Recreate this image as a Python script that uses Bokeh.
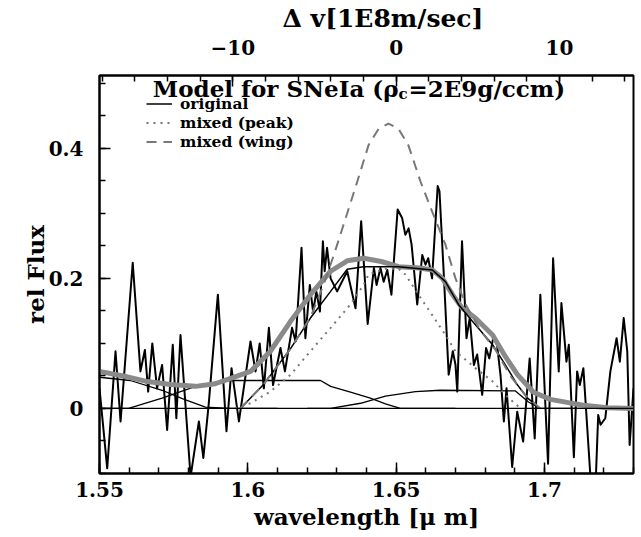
from bokeh.plotting import figure
from bokeh.models import (Range1d, LinearAxis, FixedTicker, PrintfTickFormatter,
                          Legend, LegendItem, Label, Span)
from bokeh.embed import file_html
from bokeh.resources import INLINE

# ---------------- data ----------------
wl_obs = [1.5500, 1.5526, 1.5554, 1.5571, 1.5612, 1.5638, 1.5653, 1.5664, 1.5678, 1.5694,
          1.5711, 1.5728, 1.5747, 1.5759, 1.5773, 1.5807, 1.5835, 1.5850, 1.5868, 1.5899,
          1.5928, 1.5945, 1.5970, 1.6009, 1.6026, 1.6040, 1.6054, 1.6071, 1.6085, 1.6110,
          1.6125, 1.6149, 1.6161, 1.6181, 1.6194, 1.6209, 1.6220, 1.6231, 1.6243, 1.6253,
          1.6259, 1.6267, 1.6279, 1.6301, 1.6335, 1.6363, 1.6382, 1.6404, 1.6425, 1.6434,
          1.6447, 1.6458, 1.6470, 1.6484, 1.6505, 1.6520, 1.6531, 1.6542, 1.6552, 1.6571,
          1.6588, 1.6599, 1.6608, 1.6621, 1.6640, 1.6646, 1.6660, 1.6677, 1.6691, 1.6700,
          1.6706, 1.6722, 1.6737, 1.6748, 1.6762, 1.6773, 1.6790, 1.6803, 1.6814, 1.6829,
          1.6840, 1.6852, 1.6863, 1.6872, 1.6891, 1.6908, 1.6928, 1.6950, 1.6967, 1.6986,
          1.7012, 1.7029, 1.7048, 1.7057, 1.7074, 1.7082, 1.7099, 1.7110, 1.7119, 1.7131,
          1.7157, 1.7172, 1.7181, 1.7189, 1.7205, 1.7222, 1.7243, 1.7254, 1.7267, 1.7279,
          1.7287, 1.7300]
flux_obs = [0.031, -0.092, 0.088, -0.020, 0.224, 0.057, 0.090, 0.026, 0.100, 0.031,
            0.067, -0.033, 0.098, -0.015, 0.113, -0.105, -0.020, -0.076, 0.006, 0.175,
            -0.035, 0.062, -0.020, 0.103, 0.057, 0.100, 0.031, 0.124, 0.036, 0.093,
            0.057, 0.124, 0.103, 0.247, 0.108, 0.190, 0.149, 0.180, 0.149, 0.257,
            0.211, 0.247, 0.200, 0.180, 0.211, 0.154, 0.288, 0.130, 0.216, 0.190,
            0.216, 0.195, 0.213, 0.175, 0.306, 0.293, 0.267, 0.277, 0.252, 0.160,
            0.236, 0.221, 0.231, 0.200, 0.342, 0.334, 0.211, 0.052, 0.088, 0.067,
            0.026, 0.257, 0.108, 0.139, 0.067, 0.083, 0.021, 0.093, 0.077, 0.113,
            0.098, 0.050, -0.020, 0.031, -0.090, -0.005, -0.051, 0.077, -0.046, 0.175,
            -0.085, 0.231, 0.057, 0.162, 0.072, 0.098, -0.075, 0.057, 0.036, 0.062,
            -0.120, -0.120, -0.010, -0.025, -0.015, 0.057, 0.108, 0.072, 0.139, 0.088,
            -0.056, 0.031]

# total model (thick grey)
wl_total = [1.5500, 1.5580, 1.5655, 1.5740, 1.5824, 1.5890, 1.5935, 1.6009, 1.6076, 1.6144,
            1.6211, 1.6279, 1.6335, 1.6390, 1.6450, 1.6508, 1.6580, 1.6622, 1.6656, 1.6690,
            1.6723, 1.6767, 1.6825, 1.6868, 1.6909, 1.6963, 1.7020, 1.7080, 1.7131, 1.7212,
            1.7300]
flux_total = [0.057, 0.050, 0.042, 0.037, 0.034, 0.038, 0.045, 0.057, 0.088, 0.134,
              0.175, 0.211, 0.227, 0.231, 0.226, 0.218, 0.216, 0.213, 0.200, 0.175,
              0.154, 0.139, 0.113, 0.080, 0.052, 0.025, 0.014, 0.009, 0.005, 0.001,
              0.000]

# original model
wl_orig = [1.5975, 1.6053, 1.6144, 1.6211, 1.6279, 1.6335, 1.6390, 1.6508, 1.6622, 1.6666,
           1.6710, 1.6757, 1.6825, 1.6868, 1.6909, 1.6943, 1.6986]
flux_orig = [0.000, 0.037, 0.092, 0.139, 0.180, 0.214, 0.218, 0.218, 0.213, 0.195,
             0.160, 0.134, 0.098, 0.067, 0.036, 0.016, 0.000]

# mixed (peak)
wl_peak = [1.5958, 1.6009, 1.6076, 1.6144, 1.6211, 1.6279, 1.6346, 1.6390, 1.6407, 1.6464,
           1.6508, 1.6531, 1.6575, 1.6621, 1.6666, 1.6700, 1.6767, 1.6824, 1.6868, 1.6919]
flux_peak = [0.000, 0.008, 0.026, 0.052, 0.088, 0.124, 0.160, 0.190, 0.206, 0.215,
             0.215, 0.206, 0.175, 0.144, 0.113, 0.088, 0.062, 0.042, 0.021, 0.000]

# mixed (wing)
wl_wing = [1.5975, 1.6053, 1.6144, 1.6211, 1.6255, 1.6290, 1.6323, 1.6369, 1.6407, 1.6441,
           1.6474, 1.6508, 1.6541, 1.6582, 1.6621, 1.6666, 1.6700, 1.6734, 1.6784, 1.6835,
           1.6885, 1.6936, 1.6986]
flux_wing = [0.000, 0.037, 0.092, 0.140, 0.190, 0.236, 0.283, 0.349, 0.405, 0.430,
             0.438, 0.430, 0.405, 0.349, 0.303, 0.252, 0.200, 0.160, 0.120, 0.090,
             0.050, 0.020, 0.000]

# thin component lines
wl_comp0 = [1.5500, 1.5604, 1.5711, 1.5779, 1.5857, 1.5942, 1.6100]
flux_comp0 = [0.048, 0.043, 0.028, 0.015, 0.002, 0.000, 0.000]
wl_comp1 = [1.5500, 1.5598, 1.5711, 1.5824, 1.5935, 1.6245, 1.6279, 1.6346, 1.6413, 1.6464,
            1.6514, 1.6700]
flux_comp1 = [0.000, 0.000, 0.016, 0.034, 0.043, 0.043, 0.034, 0.025, 0.016, 0.007,
              0.000, 0.000]
wl_comp2 = [1.6200, 1.6279, 1.6380, 1.6464, 1.6565, 1.6649, 1.6902, 1.6946, 1.6986, 1.7300]
flux_comp2 = [0.000, 0.000, 0.008, 0.019, 0.026, 0.028, 0.027, 0.010, 0.000, 0.000]

x_major = [1.55, 1.6, 1.65, 1.7]
x_minor = [round(1.55 + 0.01 * i, 2) for i in range(19)]
y_major = [0, 0.2, 0.4]
y_minor = [round(-0.1 + 0.05 * i, 2) for i in range(13)]
v_major = [-10, 0, 10]
v_minor = list(range(-18, 15, 2))
v_labels = {-10: "\u221210", 0: "0", 10: "10"}

LAMBDA0 = 1.65          # rest wavelength [micron]
C_LIGHT = 299.792458    # speed of light in units of the top axis


def dv(lam):
    return (lam / LAMBDA0 - 1.0) * C_LIGHT


X0, X1 = 1.55, 1.73
Y0, Y1 = -0.1, 0.512

FONT = "DejaVu Serif"

p = figure(width=641, height=537, x_range=Range1d(X0, X1), y_range=Range1d(Y0, Y1),
           output_backend="svg", toolbar_location=None,
           min_border_left=99, min_border_right=8, min_border_top=75, min_border_bottom=64)
p.grid.visible = False
p.background_fill_color = "white"
p.border_fill_color = "white"
p.outline_line_color = "black"
p.outline_line_width = 2

# top axis title (as the plot title, above the velocity axis)
p.title.text = "\u0394 v[1E8m/sec]"
p.title.align = "left"
p.title.vertical_align = "top"
p.title.offset = 183
p.title.standoff = 4
p.title.text_font = FONT
p.title.text_font_style = "bold"
p.title.text_font_size = "25px"
p.title.text_color = "black"

p.extra_x_ranges = {"dv": Range1d(dv(X0), dv(X1))}
top = LinearAxis(x_range_name="dv",
                 ticker=FixedTicker(ticks=v_major, minor_ticks=v_minor))
top.major_label_overrides = v_labels
p.add_layout(top, "above")

xa = None
for ax in p.xaxis:
    if ax is not top:
        xa = ax
xa.ticker = FixedTicker(ticks=x_major, minor_ticks=x_minor)
xa.formatter = PrintfTickFormatter(format="%g")
xa.axis_label = "wavelength [\u03bc m]"
ya = p.yaxis[0]
ya.ticker = FixedTicker(ticks=y_major, minor_ticks=y_minor)
ya.formatter = PrintfTickFormatter(format="%g")
ya.axis_label = "rel Flux"

for ax in [xa, ya, top]:
    ax.axis_line_color = "black"
    ax.axis_line_width = 2
    ax.major_tick_in = 11
    ax.major_tick_out = 0
    ax.minor_tick_in = 6
    ax.minor_tick_out = 0
    ax.major_tick_line_width = 1.5
    ax.minor_tick_line_width = 1.5
    ax.major_tick_line_color = "black"
    ax.minor_tick_line_color = "black"
    ax.major_label_text_font = FONT
    ax.major_label_text_font_style = "bold"
    ax.major_label_text_font_size = "20px"
    ax.major_label_text_color = "black"
    ax.axis_label_text_font = FONT
    ax.axis_label_text_font_style = "bold"
    ax.axis_label_text_font_size = "23px"
    ax.axis_label_text_color = "black"

xa.major_label_standoff = 8
xa.axis_label_standoff = 3
top.major_label_standoff = 21
ya.major_label_standoff = 16
ya.axis_label_standoff = -3

# zero line
p.add_layout(Span(location=0, dimension="width", line_color="black", line_width=1.3))

# thin components
p.line(wl_comp0, flux_comp0, line_color="black", line_width=1.3)
p.line(wl_comp1, flux_comp1, line_color="black", line_width=1.3)
p.line(wl_comp2, flux_comp2, line_color="black", line_width=1.3)

# observed spectrum
p.line(wl_obs, flux_obs, line_color="black", line_width=2.0, line_join="round")

# models
p.line(wl_total, flux_total, line_color="#8a8a8a", line_width=5, line_join="round")
r_orig = p.line(wl_orig, flux_orig, line_color="black", line_width=1.5)
r_peak = p.line(wl_peak, flux_peak, line_color="#777777", line_width=2, line_dash="2 5")
r_wing = p.line(wl_wing, flux_wing, line_color="#777777", line_width=2, line_dash="10 7")

legend = Legend(items=[LegendItem(label="original", renderers=[r_orig]),
                       LegendItem(label="mixed (peak)", renderers=[r_peak]),
                       LegendItem(label="mixed (wing)", renderers=[r_wing])],
                location=(47, 322), orientation="vertical",
                padding=0, margin=0, spacing=0,
                glyph_width=26, glyph_height=17, label_height=17, label_standoff=8,
                label_text_font=FONT, label_text_font_style="bold",
                label_text_font_size="15.5px", label_text_color="black",
                border_line_alpha=0, background_fill_alpha=0)
p.add_layout(legend)

# legend title with subscript
title_kw = dict(x_units="screen", y_units="screen", text_font=FONT,
                text_font_style="bold", text_color="black", text_baseline="alphabetic")
p.add_layout(Label(x=299, y=385, text="Model for SNeIa (\u03c1", text_align="right",
                   text_font_size="23px", **title_kw))
p.add_layout(Label(x=299, y=380, text="c", text_align="left",
                   text_font_size="15px", **title_kw))
p.add_layout(Label(x=309, y=385, text="=2E9g/ccm)", text_align="left",
                   text_font_size="23px", **title_kw))

open("out.html", "w").write(file_html(p, INLINE))
